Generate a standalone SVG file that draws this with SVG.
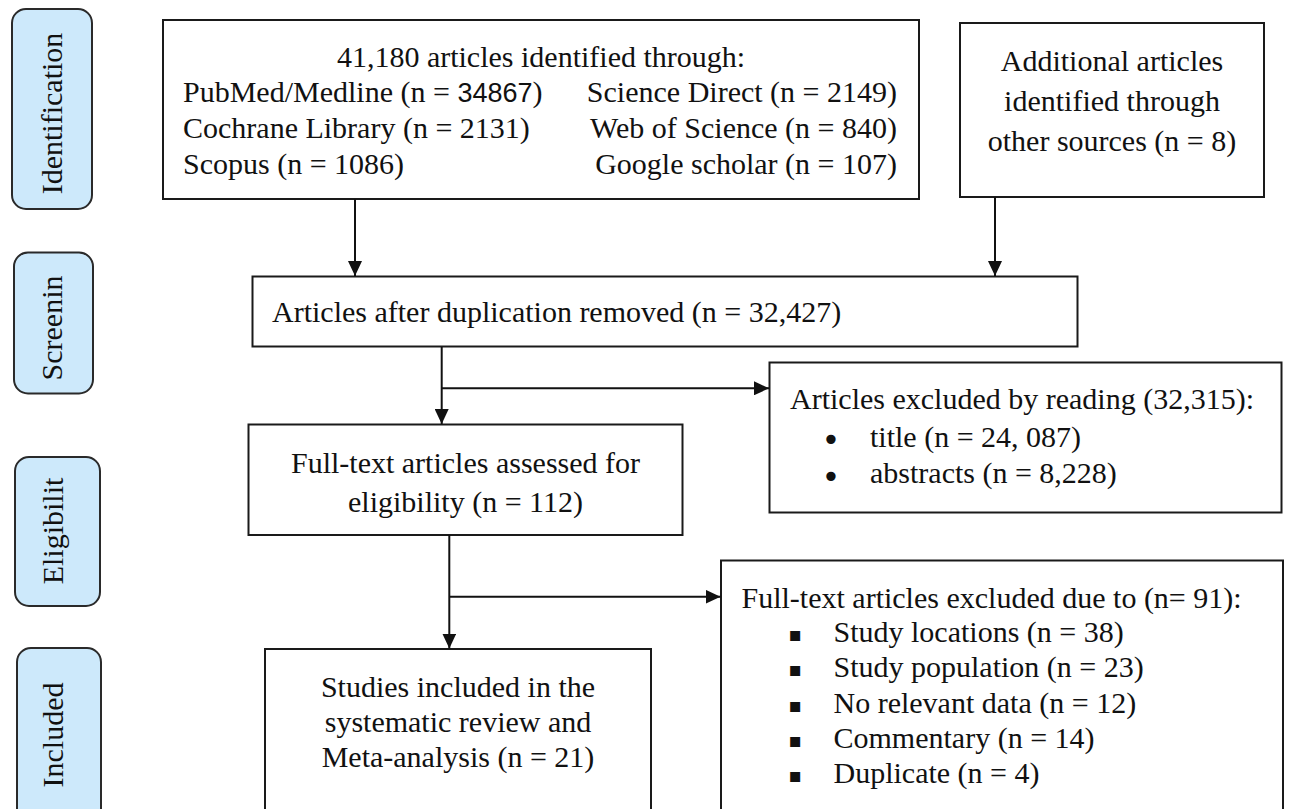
<svg xmlns="http://www.w3.org/2000/svg" width="1289" height="809" viewBox="0 0 1289 809">
<defs>
<marker id="ah" markerUnits="userSpaceOnUse" markerWidth="15" markerHeight="14" refX="15" refY="7" orient="auto">
<path d="M0,0 L15,7 L0,14 z" fill="#111"/>
</marker>
<style>
.box{fill:#fff;stroke:#1a1a1a;stroke-width:2}
.stage{fill:#cde9fb;stroke:#2a2a2a;stroke-width:2}
.t{font-family:"Liberation Serif","Times New Roman",serif;font-size:30px;fill:#111}
.c{text-anchor:middle}
.e{text-anchor:end}
.sans{font-family:"Liberation Sans",Arial,sans-serif;font-size:27px}
.ln{stroke:#111;stroke-width:2;fill:none}
.bul{font-family:"DejaVu Sans",sans-serif;font-size:20px;fill:#111;text-anchor:middle}
.dot{font-family:"DejaVu Sans",sans-serif;font-size:32px;fill:#111;text-anchor:middle}
</style>
</defs>
<rect width="1289" height="809" fill="#fff"/>

<g id="stage-identification">
<rect class="stage" x="12" y="9" width="80" height="200" rx="14"/>
<text class="t c" transform="translate(62,113.5) rotate(-90)">Identification</text>
</g>
<g id="stage-screening">
<rect class="stage" x="14" y="252.5" width="79" height="141" rx="14"/>
<text class="t c" transform="translate(62,328) rotate(-90)">Screenin</text>
</g>
<g id="stage-eligibility">
<rect class="stage" x="15" y="457" width="85" height="149" rx="14"/>
<text class="t c" transform="translate(63,531) rotate(-90)">Eligibilit</text>
</g>
<g id="stage-included">
<rect class="stage" x="17" y="648" width="84" height="190" rx="14"/>
<text class="t c" transform="translate(63,735) rotate(-90)">Included</text>
</g>

<g id="identified">
<rect class="box" x="163" y="20" width="756" height="179"/>
<text class="t c" x="541" y="67">41,180 articles identified through:</text>
<text class="t" x="183" y="102">PubMed/Medline (n = <tspan class="sans">34867</tspan>)</text>
<text class="t" x="183" y="138">Cochrane Library (n = 2131)</text>
<text class="t" x="183" y="174">Scopus (n = 1086)</text>
<text class="t e" x="897" y="102">Science Direct (n = 2149)</text>
<text class="t e" x="897" y="138">Web of Science (n = 840)</text>
<text class="t e" x="897" y="174">Google scholar (n = 107)</text>
</g>

<g id="additional">
<rect class="box" x="960" y="23" width="304" height="174"/>
<text class="t c" x="1112" y="71">Additional articles</text>
<text class="t c" x="1112" y="111">identified through</text>
<text class="t c" x="1112" y="151">other sources (n = 8)</text>
</g>

<g id="deduplicated">
<rect class="box" x="252.5" y="276.5" width="825" height="70"/>
<text class="t" x="272" y="322">Articles after duplication removed (n = 32,427)</text>
</g>

<g id="excluded-reading">
<rect class="box" x="769.5" y="362.5" width="512" height="150"/>
<text class="t" x="790" y="409">Articles excluded by reading (32,315):</text>
<text class="dot" x="831" y="450.5">•</text>
<text class="t" x="870" y="446.5">title (n = 24, 087)</text>
<text class="dot" x="831" y="487.5">•</text>
<text class="t" x="870" y="483">abstracts (n = 8,228)</text>
</g>

<g id="fulltext">
<rect class="box" x="248.5" y="424.5" width="434" height="110.5"/>
<text class="t c" x="465.5" y="472.5">Full-text articles assessed for</text>
<text class="t c" x="465.5" y="511.5">eligibility (n = 112)</text>
</g>

<g id="excluded-fulltext">
<rect class="box" x="721" y="560.5" width="562" height="270"/>
<text class="t" x="741.5" y="608">Full-text articles excluded due to (n= 91):</text>
<text class="bul" x="795" y="641">▪</text>
<text class="t" x="833.5" y="642">Study locations (n = 38)</text>
<text class="bul" x="795" y="676">▪</text>
<text class="t" x="833.5" y="677">Study population (n = 23)</text>
<text class="bul" x="795" y="712">▪</text>
<text class="t" x="833.5" y="713">No relevant data (n = 12)</text>
<text class="bul" x="795" y="747">▪</text>
<text class="t" x="833.5" y="748">Commentary (n = 14)</text>
<text class="bul" x="795" y="782">▪</text>
<text class="t" x="833.5" y="783">Duplicate (n = 4)</text>
</g>

<g id="included">
<rect class="box" x="265" y="649" width="386" height="200"/>
<text class="t c" x="458" y="697">Studies included in the</text>
<text class="t c" x="458" y="732">systematic review and</text>
<text class="t c" x="458" y="767">Meta-analysis (n = 21)</text>
</g>

<g id="connectors">
<path class="ln" d="M355,199 V276" marker-end="url(#ah)"/>
<path class="ln" d="M995,197 V276" marker-end="url(#ah)"/>
<path class="ln" d="M441.7,347 V424" marker-end="url(#ah)"/>
<path class="ln" d="M441.7,388.3 H769" marker-end="url(#ah)"/>
<path class="ln" d="M449.3,535 V648.5" marker-end="url(#ah)"/>
<path class="ln" d="M449.3,596.7 H720.5" marker-end="url(#ah)"/>
</g>
</svg>
